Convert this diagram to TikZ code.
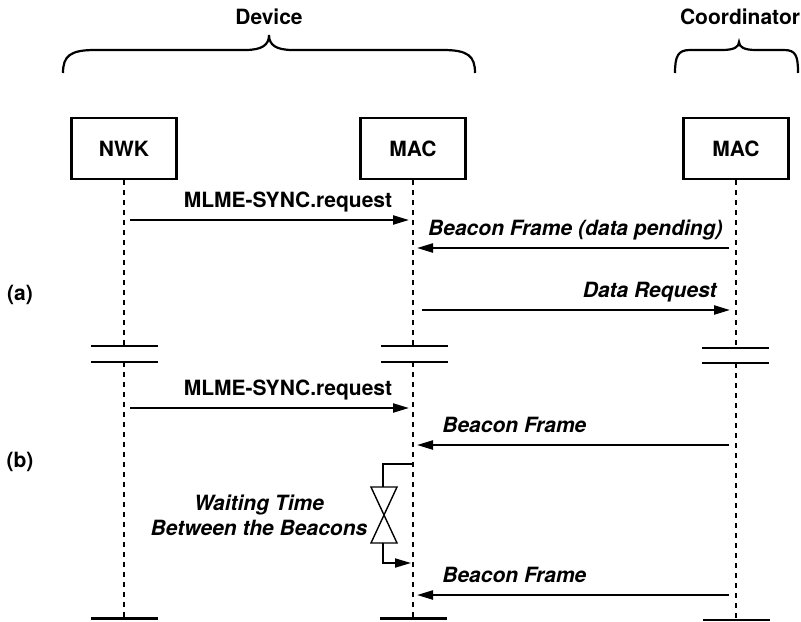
\documentclass[tikz,border=0pt]{standalone}
\usepackage{fontspec}
\setsansfont{TeX Gyre Heros}
\usetikzlibrary{arrows.meta}

\begin{document}
\begin{tikzpicture}[x=0.5pt,y=-0.5pt,
  every node/.style={font=\sffamily\bfseries\fontsize{10.5}{12.5}\selectfont},
  layer/.style={draw,line width=1.2pt,minimum width=52.5pt,minimum height=30.5pt,inner sep=0pt},
  life/.style={line width=1.4pt,dash pattern=on 2.5pt off 2.5pt},
  cut/.style={line width=1.2pt},
  brc/.style={line width=1.1pt},
  msg/.style={-{Triangle[length=8pt,width=4.5pt]},line width=1.1pt,shorten <=3pt,shorten >=2pt},
  lab/.style={inner sep=0pt},
  frm/.style={lab,font=\sffamily\bfseries\itshape\fontsize{10.5}{12.5}\selectfont}]
  \useasboundingbox (0,0) rectangle (801,621);
  % groups
  \node (dev) at (269,17) {Device};
  \node (coord) at (740,17) {Coordinator};
  \draw[brc] (63,73) .. controls (63,56) and (70,50) .. (95,50) -- (245,50)
    .. controls (262,50) and (269,45) .. (269,35)
    .. controls (269,45) and (276,50) .. (293,50) -- (443,50)
    .. controls (468,50) and (475,56) .. (475,73);
  \draw[brc] (675,73) .. controls (675,56) and (678,50) .. (690,50) -- (722,50)
    .. controls (734,50) and (739,47) .. (739,42)
    .. controls (739,47) and (744,50) .. (756,50) -- (784,50)
    .. controls (796,50) and (798,56) .. (798,73);
  % layers and lifelines
  \node[layer] (nwk) at (124,148.5) {NWK};
  \node[layer] (dmac) at (413,148.5) {MAC};
  \node[layer] (cmac) at (736,148.5) {MAC};
  \draw[life] (nwk.south) -- (nwk |- 0,346); \draw[life] (nwk |- 0,362) -- (nwk |- 0,618.5);
  \draw[life] (dmac.south) -- (dmac |- 0,346); \draw[life] (dmac |- 0,362) -- (dmac |- 0,618.5);
  \draw[life] (cmac.south) -- (cmac |- 0,348); \draw[life] (cmac |- 0,363) -- (cmac |- 0,620);
  % breaks and ends
  \draw[cut] (91,346) -- (158,346) (91,362) -- (158,362) (91,618.5) -- (158,618.5);
  \draw[cut] (381,346) -- (448,346) (381,362) -- (448,362) (380,618.5) -- (447,618.5);
  \draw[cut] (702,348) -- (769,348) (702,363) -- (769,363) (703,620) -- (770,620);
  % (a)
  \node (pa) at (20,295) {(a)};
  \node[lab] (sync1) at (288,202) {MLME-SYNC.request};
  \draw[msg] (nwk |- 0,220) -- (dmac |- 0,220);
  \node[frm,anchor=east] (bcn0) at (723,230) {Beacon Frame (data pending)};
  \draw[msg,shorten <=3.5pt] (cmac |- 0,248) -- (dmac |- 0,248);
  \node[frm,anchor=east] (dreq) at (717,292) {Data Request};
  \draw[msg,shorten <=4.5pt,shorten >=3pt] (dmac |- 0,310) -- (cmac |- 0,310);
  % (b)
  \node (pb) at (20,462) {(b)};
  \node[lab] (sync2) at (288,390) {MLME-SYNC.request};
  \draw[msg] (nwk |- 0,408) -- (dmac |- 0,408);
  \node[frm,anchor=west] (bcn1) at (442,425) {Beacon Frame};
  \draw[msg,shorten <=3.5pt] (cmac |- 0,445) -- (dmac |- 0,445);
  \node[frm,anchor=west] (bcn2) at (442,575) {Beacon Frame};
  \draw[msg,shorten <=3.5pt] (cmac |- 0,595) -- (dmac |- 0,595);
  % waiting time
  \node[frm,align=center] (wait) at (259,515.5) {Waiting Time\\Between the Beacons};
  \coordinate (w0) at (dmac |- 0,464);
  \draw[line width=0.9pt] (w0) -| (383,487);
  \draw[line width=0.7pt] (371,487) -- (397,487) -- (371,543) -- (397,543) -- cycle;
  \draw[msg,line width=0.9pt,shorten <=0pt,shorten >=1pt] (383,543) |- (dmac |- 0,563);
\end{tikzpicture}
\end{document}
